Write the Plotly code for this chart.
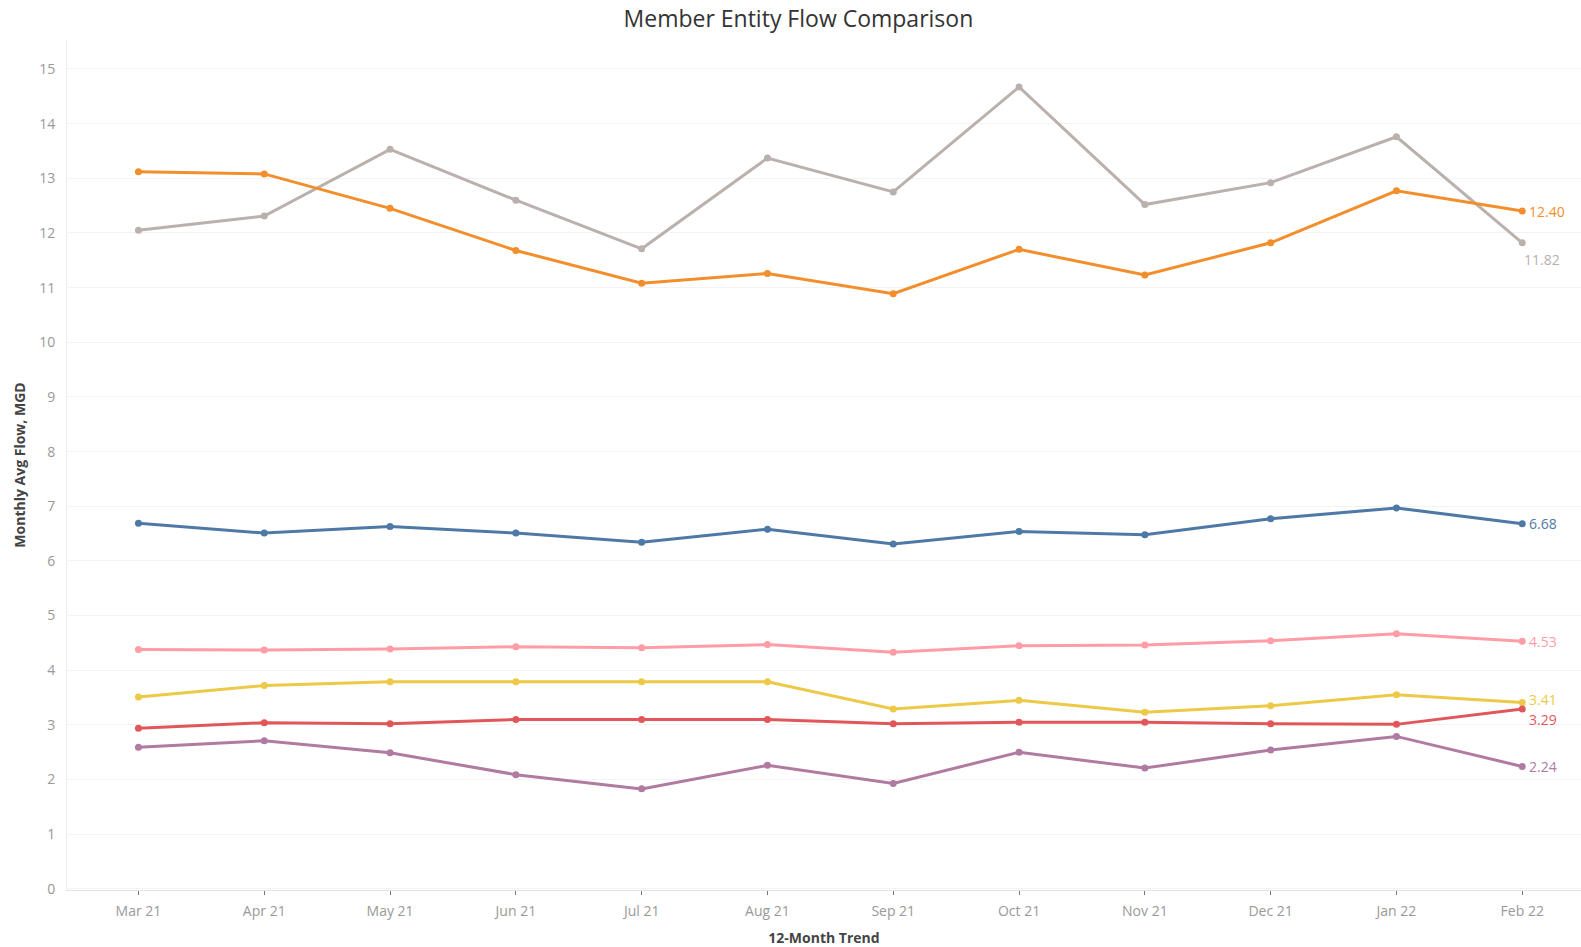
import plotly.graph_objects as go

months = ["Mar 21", "Apr 21", "May 21", "Jun 21", "Jul 21", "Aug 21",
          "Sep 21", "Oct 21", "Nov 21", "Dec 21", "Jan 22", "Feb 22"]

# Monthly average flow (MGD) per member entity
entity_gray = [12.05, 12.31, 13.53, 12.60, 11.71, 13.37, 12.75, 14.67, 12.52, 12.92, 13.76, 11.82]
entity_orange = [13.12, 13.08, 12.45, 11.68, 11.08, 11.26, 10.89, 11.70, 11.23, 11.82, 12.77, 12.40]
entity_blue = [6.69, 6.51, 6.63, 6.51, 6.34, 6.58, 6.31, 6.54, 6.48, 6.77, 6.97, 6.68]
entity_pink = [4.38, 4.37, 4.39, 4.43, 4.41, 4.47, 4.33, 4.45, 4.46, 4.54, 4.67, 4.53]
entity_yellow = [3.51, 3.72, 3.79, 3.79, 3.79, 3.79, 3.29, 3.45, 3.23, 3.35, 3.55, 3.41]
entity_red = [2.94, 3.04, 3.02, 3.10, 3.10, 3.10, 3.02, 3.05, 3.05, 3.02, 3.01, 3.29]
entity_purple = [2.59, 2.71, 2.49, 2.09, 1.83, 2.26, 1.93, 2.50, 2.21, 2.54, 2.79, 2.24]

y_ticks = list(range(0, 16))

# (values, colour, end-label pixel offset x, y, anchor)
series = [
    (entity_gray, "#bab0ac", 20, -17, "center"),
    (entity_orange, "#f28e2b", 5, 0, "left"),
    (entity_blue, "#4e79a7", 5, 0, "left"),
    (entity_pink, "#ff9da7", 5, 0, "left"),
    (entity_yellow, "#edc948", 5, 3, "left"),
    (entity_red, "#e15759", 5, -10, "left"),
    (entity_purple, "#b07aa1", 5, 0, "left"),
]

xs = list(range(len(months)))
fig = go.Figure()
annotations = []
for vals, color, dx, dy, anchor in series:
    fig.add_trace(go.Scatter(
        x=xs, y=vals, mode="lines+markers",
        line=dict(color=color, width=3),
        marker=dict(color=color, size=7),
        showlegend=False, hoverinfo="x+y",
    ))
    annotations.append(dict(
        x=xs[-1], y=vals[-1], xref="x", yref="y",
        text=f"{vals[-1]:.2f}", showarrow=False,
        xanchor=anchor, yanchor="middle",
        xshift=dx, yshift=dy,
        font=dict(family="Open Sans, sans-serif", size=14, color=color),
    ))

fig.update_layout(
    width=1581, height=947,
    margin=dict(l=67, r=0, t=40, b=57),
    paper_bgcolor="white", plot_bgcolor="white",
    title=dict(text="Member Entity Flow Comparison", x=0.505, xanchor="center",
               y=0.98, yanchor="middle",
               font=dict(family="Open Sans, sans-serif", size=23, color="#333333",
                         weight=500)),
    annotations=annotations,
    font=dict(family="Open Sans, sans-serif"),
)
fig.update_xaxes(
    tickmode="array", tickvals=xs, ticktext=months,
    range=[-0.568, 11.467],
    showgrid=False, zeroline=False,
    showline=True, linecolor="#e3e3e3", linewidth=1,
    ticks="outside", ticklen=4, tickcolor="#777777",
    ticklabelstandoff=4,
    tickfont=dict(size=14, color="#999999"),
    title=dict(text="<b>12-Month Trend</b>", standoff=14,
               font=dict(size=14, color="#444444")),
)
fig.update_yaxes(
    tickmode="array", tickvals=y_ticks,
    range=[-0.02, 15.53],
    showgrid=True, gridcolor="#f3f3f3", gridwidth=1,
    zeroline=False,
    showline=True, linecolor="#eeeeee", linewidth=1,
    ticks="", ticklabelstandoff=8,
    tickfont=dict(size=14, color="#999999"),
    title=dict(text="<b>Monthly Avg Flow, MGD</b>", standoff=10,
               font=dict(size=14, color="#444444")),
)

fig.write_html("out.html")
